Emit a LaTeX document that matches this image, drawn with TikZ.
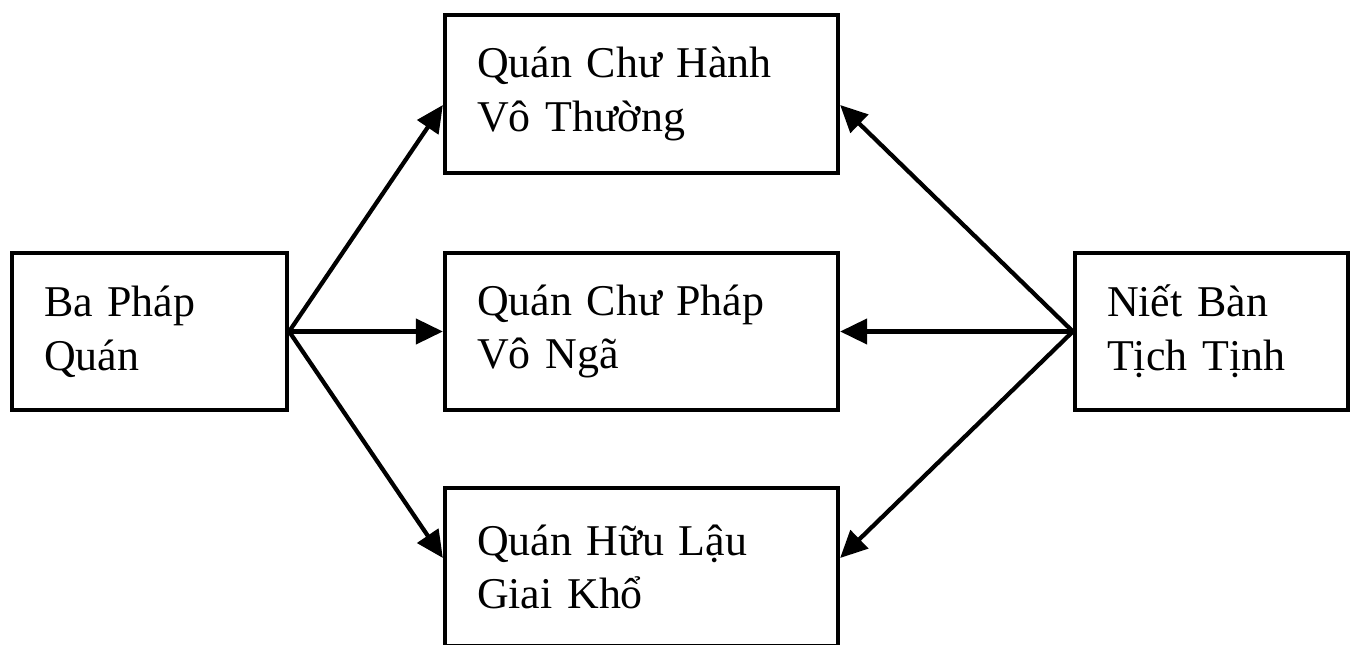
\documentclass[tikz,border=0pt]{standalone}
\usepackage{fontspec}
\setmainfont{Liberation Serif}
\usetikzlibrary{arrows.meta}
\begin{document}
\begin{tikzpicture}[font=\fontsize{25}{30.5}\selectfont,line width=0.085cm,
  box/.style={draw,minimum height=3.15cm,inner xsep=0.64cm,align=left},
  arr/.style={-{Triangle[length=0.54cm,width=0.5cm]}}]
\useasboundingbox(0,0)rectangle(27.04,12.9);
\node[box,text width=4.22cm](bpq)at(2.99,6.27){Ba Pháp\\Quán};
\node[box,text width=6.58cm](vt)at(12.83,11.02){Quán Chư Hành\\Vô Thường};
\node[box,text width=6.58cm](vn)at(12.83,6.27){Quán Chư Pháp\\Vô Ngã};
\node[box,text width=6.58cm](gk)at(12.83,1.56){Quán Hữu Lậu\\Giai Khổ};
\node[box,text width=4.18cm](nb)at(24.23,6.27){Niết Bàn\\Tịch Tịnh};
\coordinate(vtw)at([yshift=-0.22cm]vt.west);
\coordinate(vte)at([yshift=-0.22cm]vt.east);
\coordinate(gkw)at([yshift=0.18cm]gk.west);
\coordinate(gke)at([yshift=0.18cm]gk.east);
\draw[arr](bpq.east)--(vtw);
\draw[arr](bpq.east)--(vn.west);
\draw[arr](bpq.east)--(gkw);
\draw[arr](nb.west)--(vte);
\draw[arr](nb.west)--(vn.east);
\draw[arr](nb.west)--(gke);
\end{tikzpicture}
\end{document}
